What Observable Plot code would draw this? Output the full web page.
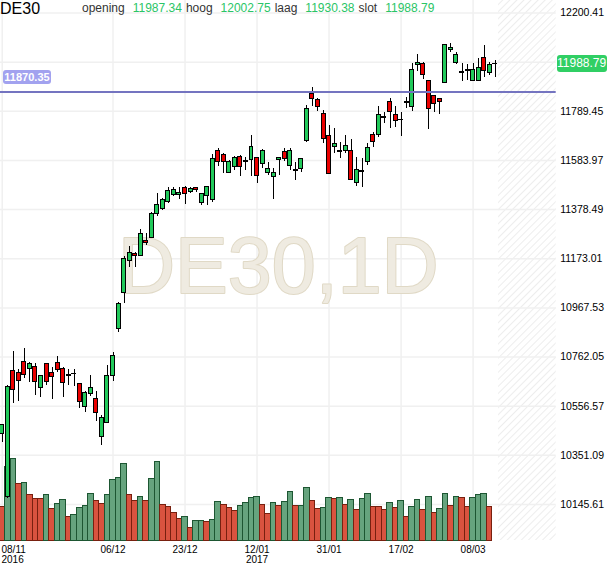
<!DOCTYPE html>
<html>
<head>
<meta charset="utf-8">
<script src="https://cdn.jsdelivr.net/npm/d3@7"></script>
<script src="https://cdn.jsdelivr.net/npm/@observablehq/plot@0.6"></script>
<style>
html,body{margin:0;padding:0;background:#fff;}
#wrap{position:relative;width:610px;height:568px;overflow:hidden;font-family:"Liberation Sans",Arial,sans-serif;background:#fff;}
#wrap svg{position:absolute;left:0;top:0;}
.sym{position:absolute;left:0;top:1px;font-size:16px;line-height:16px;color:#000;}
.info{position:absolute;left:82px;top:1px;font-size:12px;line-height:14px;white-space:nowrap;}
.info .lb{color:#333;margin-right:8px;}
.info .vl{color:#2ac566;margin-right:4px;}
.reflab{position:absolute;left:3px;width:48px;height:14px;line-height:14px;background:#a2a2ef;color:#fff;font-weight:bold;font-size:11px;text-align:center;border-radius:3px;}
.lastlab{position:absolute;left:557px;width:50px;height:17px;line-height:17px;background:#30cf64;color:#fff;font-size:12px;text-align:left;border-radius:3px;overflow:hidden;white-space:nowrap;}
</style>
</head>
<body>
<div id="wrap"></div>
<script>
// ---- data ----
const symbol = "DE30";
const watermark = "DE30,1D";
const open  = [10441,10176,10703,10696,10742,10713,10722,10632,10731,10694,10738,10713,10686,10693,10650,10552,10608,10587,10427,10487,
               10681,10880,11029,11163,11194,11186,11249,11260,11361,11379,11409,11440,11440,11470,11451,11468,11405,11434,11419,11623,
               11605,11532,11556,11597,11580,11584,11595,11570,11531,11515,11587,11619,11561,11543,11549,11667,11863,11837,11779,11688,
               11639,11625,11625,11625,11490,11539,11577,11692,11691,11765,11830,11776,11754,11825,11809,11984,11988,11918,11854,11842,
               11909,12047,11991,11953,11963,11918,11915,12013,11949,11987.34];
const high  = [10480,10643,10786,10709,10796,10740,10734,10685,10734,10719,10764,10719,10709,10709,10652,10619,10685,10619,10518,10727,
               10780,10990,11182,11225,11200,11294,11278,11366,11444,11425,11472,11472,11470,11475,11470,11469,11445,11473,11609,11633,
               11612,11584,11600,11605,11595,11688,11596,11630,11575,11549,11597,11634,11633,11577,11592,11814,11888,11843,11793,11730,
               11716,11660,11688,11670,11597,11591,11654,11702,11809,11786,11842,11809,11786,11848,11988,12027,11993,11919,11855,11843,
               12069,12074,12036,11991,11984,11988,12009,12065,11995,12002.75];
const low   = [10405,10171,10569,10577,10671,10657,10601,10594,10643,10584,10699,10594,10643,10639,10548,10531,10598,10494,10392,10485,
               10661,10866,10985,11138,11135,11184,11228,11258,11351,11375,11403,11434,11421,11400,11444,11451,11396,11396,11409,11559,
               11528,11530,11542,11517,11542,11517,11486,11549,11521,11419,11521,11580,11542,11500,11534,11660,11809,11790,11654,11527,
               11614,11591,11614,11500,11475,11472,11563,11639,11681,11737,11719,11723,11684,11800,11790,11957,11921,11713,11786,11775,
               11908,12036,11985,11915,11918,11917,11914,11932,11939,11930.38];
const close = [10476,10636,10625,10661,10688,10731,10657,10681,10657,10678,10709,10654,10684,10691,10573,10612,10633,10529,10508,10681,
               10768,10982,11173,11198,11184,11277,11240,11361,11398,11419,11458,11461,11449,11444,11465,11462,11444,11472,11591,11577,
               11577,11577,11595,11557,11578,11642,11517,11625,11549,11532,11596,11591,11625,11541,11591,11800,11842,11807,11674,11528,
               11654,11620,11645,11503,11545,11537,11637,11660,11772,11763,11786,11748,11752,11827,11963,11993,11942,11800,11818,11827,
               12065,12055,12023,11951,11959,11963,11971,11960,11985,11988.79];
const volume = [34,74,82,57,58,46,42,42,46,32,37,41,24,26,33,35,47,40,37,46,
                61,63,77,46,40,44,40,62,79,36,34,28,22,24,13,20,20,19,21,39,
                36,33,30,35,38,43,44,36,27,38,35,39,49,35,35,53,40,32,33,43,
                42,43,36,41,31,42,47,34,34,31,38,33,40,24,34,41,31,44,28,32,
                47,35,44,43,34,43,46,47,34];
const volDir = ["r","g","g","r","g","r","r","r","g","r","g","g","r","g","g","g","g","r","r","g",
                "g","g","g","r","r","g","r","g","g","r","r","r","r","g","r","g","g","r","g","g",
                "r","r","r","g","g","g","g","r","r","g","r","g","g","r","g","g","r","r","g","g",
                "r","g","r","g","r","g","g","r","r","r","g","r","g","r","g","g","r","g","r","g",
                "g","r","g","r","r","g","g","g","r"];
// grid levels; the 11994.93 label is hidden under the last-price tag in the reference
const priceTicks = [12200.41,11994.93,11789.45,11583.97,11378.49,11173.01,10967.53,10762.05,10556.57,10351.09,10145.61];
const priceTickLabels = [12200.41,11789.45,11583.97,11378.49,11173.01,10967.53,10762.05,10556.57,10351.09,10145.61];
const dateTickIndex = [0,20,33,46,59,72,85];
const dateTickLabel = ["08/11\n2016","06/12","23/12","12/01\n2017","31/01","17/02","08/03"];
const refLevel = 11870.35;
const infoLabels = ["opening","hoog","laag","slot"];

// ---- build ----
const GREEN = "#21c95a", RED = "#ea0000";
const candles = open.map((o, i) => ({i, open: o, high: high[i], low: low[i], close: close[i]}));
const vols = volume.map((v, i) => ({i, vol: v, up: volDir[i] === "g"}));
const dateTicks = dateTickIndex.map((i, k) => ({i, label: dateTickLabel[k]}));
const lastIdx = candles.length - 1;
const FONT = "'Liberation Sans', Arial, sans-serif";

const common = {
  width: 610, height: 568,
  marginLeft: 0, marginRight: 54.3, marginTop: 0, marginBottom: 28,
  x: {domain: [-0.307, 100], axis: null},
  color: {type: "identity"}
};
const yPrice = {domain: [9994.93, 12252.67], axis: null};

const base = Plot.plot({
  ...common, y: yPrice,
  style: {background: "#fff", fontFamily: FONT, color: "#000", overflow: "visible"},
  marks: [
    Plot.rect([lastIdx], {x1: d => d + 0.6, x2: 100, fill: "url(#hatch)"}),
    Plot.ruleY(priceTicks, {stroke: "#f0f0f0", strokeWidth: 1.5}),
    Plot.ruleX(dateTickIndex, {stroke: "#f0f0f0", strokeWidth: 1.5}),
    Plot.text([watermark], {frameAnchor: "middle", dy: -3, fontSize: 79, fontFamily: FONT,
      fill: "#efebe1", stroke: "#e0d9c6", strokeWidth: 2}),
    Plot.axisY(priceTickLabels, {anchor: "right", tickSize: 0, tickPadding: 4, fontSize: 10.5,
      tickFormat: d => d.toFixed(2), fill: "#000"}),
    Plot.text(dateTicks.slice(0, 1), {x: "i", text: "label", frameAnchor: "bottom", lineAnchor: "top",
      textAnchor: "start", dx: -0.7, dy: 5, fontSize: 10, lineHeight: 1, fill: "#000"}),
    Plot.text(dateTicks.slice(1), {x: "i", text: "label", frameAnchor: "bottom", lineAnchor: "top",
      dy: 5, fontSize: 10, lineHeight: 1, fill: "#000"})
  ]
});
// hatch pattern for the future area
const NS = "http://www.w3.org/2000/svg";
const defs = document.createElementNS(NS, "defs");
const pat = document.createElementNS(NS, "pattern");
pat.setAttribute("id", "hatch");
pat.setAttribute("width", "5"); pat.setAttribute("height", "5");
pat.setAttribute("patternUnits", "userSpaceOnUse");
pat.setAttribute("patternTransform", "rotate(45)");
const pr = document.createElementNS(NS, "rect");
pr.setAttribute("width", "5"); pr.setAttribute("height", "5"); pr.setAttribute("fill", "#fff");
const pl = document.createElementNS(NS, "line");
pl.setAttribute("x1", "0"); pl.setAttribute("y1", "0"); pl.setAttribute("x2", "0"); pl.setAttribute("y2", "5");
pl.setAttribute("stroke", "#e9e9e9"); pl.setAttribute("stroke-width", "1.6");
pat.appendChild(pr); pat.appendChild(pl); defs.appendChild(pat);
base.insertBefore(defs, base.firstChild);

const volPlot = Plot.plot({
  ...common,
  y: {domain: [0, 90], range: [540.5, 450.5], axis: null},
  style: {background: "transparent", overflow: "visible"},
  marks: [
    Plot.rect(vols, {x1: d => d.i - 0.5, x2: d => d.i + 0.5, y1: 0, y2: "vol",
      fill: d => d.up ? "#66a47e" : "#d9533f",
      stroke: d => d.up ? "#1d5632" : "#78200f", strokeWidth: 1, shapeRendering: "crispEdges"})
  ]
});

const pricePlot = Plot.plot({
  ...common, y: yPrice,
  style: {background: "transparent", overflow: "visible"},
  marks: [
    Plot.ruleX(candles, {x: "i", y1: "low", y2: "high", stroke: "#000", strokeWidth: 1, shapeRendering: "crispEdges"}),
    Plot.rect(candles, {x1: d => d.i - 0.36, x2: d => d.i + 0.36, y1: "open", y2: "close",
      fill: d => d.close >= d.open ? GREEN : RED, stroke: "#000", strokeWidth: 1, shapeRendering: "crispEdges"}),
    Plot.ruleY([refLevel], {stroke: "#7474c0", strokeWidth: 2})
  ]
});

const wrap = document.getElementById("wrap");
wrap.appendChild(base);
wrap.appendChild(volPlot);
wrap.appendChild(pricePlot);

// header
const last = candles[lastIdx];
const sym = document.createElement("div");
sym.className = "sym"; sym.textContent = symbol;
wrap.appendChild(sym);
const info = document.createElement("div");
info.className = "info";
[last.open, last.high, last.low, last.close].forEach((v, k) => {
  const a = document.createElement("span"); a.className = "lb"; a.textContent = infoLabels[k];
  const b = document.createElement("span"); b.className = "vl"; b.textContent = v.toFixed(2);
  info.appendChild(a); info.appendChild(b);
});
wrap.appendChild(info);

// price labels positioned with the plot's own y scale
const ys = pricePlot.scale("y");
const ref = document.createElement("div");
ref.className = "reflab"; ref.textContent = refLevel.toFixed(2);
ref.style.top = (ys.apply(refLevel) - 21) + "px";
wrap.appendChild(ref);
const lab = document.createElement("div");
lab.className = "lastlab"; lab.textContent = last.close.toFixed(2);
lab.style.top = (ys.apply(last.close) - 8.5) + "px";
wrap.appendChild(lab);
</script>
</body>
</html>
